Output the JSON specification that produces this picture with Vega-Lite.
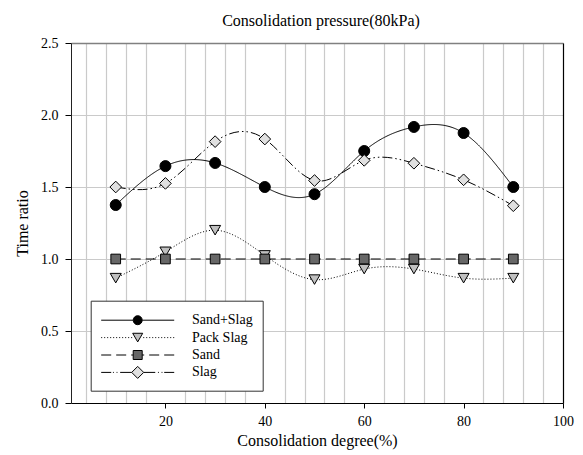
{
  "$schema": "https://vega.github.io/schema/vega-lite/v6.json",
  "autosize": {"type": "none"},
  "padding": {"left": 71, "top": 43, "right": 20, "bottom": 52},
  "width": 492,
  "height": 360,
  "background": "white",
  "config": {
    "font": "Liberation Serif",
    "view": {"stroke": null},
    "axis": {
      "labelFont": "Liberation Serif",
      "labelFontSize": 14,
      "labelColor": "black",
      "titleFont": "Liberation Serif",
      "titleFontSize": 16,
      "titleFontWeight": "normal",
      "titleColor": "black",
      "tickColor": "black",
      "gridColor": "#cacaca",
      "gridWidth": 1.2
    },
    "legend": {
      "labelFont": "Liberation Serif",
      "labelFontSize": 14,
      "labelColor": "black"
    }
  },
  "title": {
    "text": "Consolidation pressure(80kPa)",
    "font": "Liberation Serif",
    "fontSize": 16,
    "fontWeight": "normal",
    "color": "black",
    "anchor": "middle",
    "offset": 7,
    "dx": 4
  },
  "data": {
    "values": [
      {"degree": 10, "series": "Sand+Slag", "ratio": 1.375},
      {"degree": 20, "series": "Sand+Slag", "ratio": 1.645},
      {"degree": 30, "series": "Sand+Slag", "ratio": 1.667},
      {"degree": 40, "series": "Sand+Slag", "ratio": 1.5},
      {"degree": 50, "series": "Sand+Slag", "ratio": 1.45},
      {"degree": 60, "series": "Sand+Slag", "ratio": 1.75},
      {"degree": 70, "series": "Sand+Slag", "ratio": 1.917},
      {"degree": 80, "series": "Sand+Slag", "ratio": 1.875},
      {"degree": 90, "series": "Sand+Slag", "ratio": 1.5},
      {"degree": 10, "series": "Pack Slag", "ratio": 0.867},
      {"degree": 20, "series": "Pack Slag", "ratio": 1.05},
      {"degree": 30, "series": "Pack Slag", "ratio": 1.2},
      {"degree": 40, "series": "Pack Slag", "ratio": 1.025},
      {"degree": 50, "series": "Pack Slag", "ratio": 0.857},
      {"degree": 60, "series": "Pack Slag", "ratio": 0.93},
      {"degree": 70, "series": "Pack Slag", "ratio": 0.93},
      {"degree": 80, "series": "Pack Slag", "ratio": 0.867},
      {"degree": 90, "series": "Pack Slag", "ratio": 0.867},
      {"degree": 10, "series": "Sand", "ratio": 1.0},
      {"degree": 20, "series": "Sand", "ratio": 1.0},
      {"degree": 30, "series": "Sand", "ratio": 1.0},
      {"degree": 40, "series": "Sand", "ratio": 1.0},
      {"degree": 50, "series": "Sand", "ratio": 1.0},
      {"degree": 60, "series": "Sand", "ratio": 1.0},
      {"degree": 70, "series": "Sand", "ratio": 1.0},
      {"degree": 80, "series": "Sand", "ratio": 1.0},
      {"degree": 90, "series": "Sand", "ratio": 1.0},
      {"degree": 10, "series": "Slag", "ratio": 1.5},
      {"degree": 20, "series": "Slag", "ratio": 1.525},
      {"degree": 30, "series": "Slag", "ratio": 1.815},
      {"degree": 40, "series": "Slag", "ratio": 1.833},
      {"degree": 50, "series": "Slag", "ratio": 1.545},
      {"degree": 60, "series": "Slag", "ratio": 1.685},
      {"degree": 70, "series": "Slag", "ratio": 1.665},
      {"degree": 80, "series": "Slag", "ratio": 1.55},
      {"degree": 90, "series": "Slag", "ratio": 1.37}
    ]
  },
  "resolve": {
    "scale": {"shape": "independent", "fill": "independent"},
    "axis": {"x": "independent", "y": "independent"}
  },
  "layer": [
    {
      "mark": {"type": "line", "interpolate": "natural", "color": "black", "strokeWidth": 1},
      "encoding": {
        "x": {
          "field": "degree",
          "type": "quantitative",
          "scale": {"domain": [1, 100], "nice": false, "zero": false},
          "axis": {
            "title": "Consolidation degree(%)",
            "values": [4, 8, 12, 16, 20, 24, 28, 32, 36, 40, 44, 48, 52, 56, 60, 64, 68, 72, 76, 80, 84, 88, 92, 96, 100],
            "labelExpr": "datum.value % 20 === 0 ? datum.label : ''",
            "tickOpacity": {"condition": {"test": "datum.value % 20 === 0", "value": 1}, "value": 0},
            "gridOpacity": {"condition": {"test": "datum.value % 20 === 0", "value": 0}, "value": 1},
            "grid": true,
            "tickSize": 5,
            "labelPadding": 6,
            "titlePadding": 4,
            "domainColor": "black",
            "labelFlush": false
          }
        },
        "y": {
          "field": "ratio",
          "type": "quantitative",
          "scale": {"domain": [0, 2.5], "nice": false},
          "axis": {
            "title": "Time ratio",
            "values": [0, 0.5, 1, 1.5, 2, 2.5],
            "format": ".1f",
            "grid": true,
            "tickSize": 6,
            "labelPadding": 7,
            "titlePadding": 10,
            "domainColor": "#222222"
          }
        },
        "strokeDash": {
          "field": "series",
          "type": "nominal",
          "scale": {
            "domain": ["Sand+Slag", "Pack Slag", "Sand", "Slag"],
            "range": [[1, 0], [1, 2], [10, 5], [10, 3, 1.5, 3, 1.5, 3]]
          },
          "legend": null
        }
      }
    },
    {
      "mark": {"type": "point", "filled": true, "stroke": "black", "strokeWidth": 1, "opacity": 1, "size": 121},
      "encoding": {
        "x": {
          "field": "degree",
          "type": "quantitative",
          "axis": {"orient": "top", "labels": false, "ticks": false, "grid": false, "title": null, "domainColor": "#808080", "domainWidth": 1.5}
        },
        "y": {
          "field": "ratio",
          "type": "quantitative",
          "axis": {"orient": "right", "labels": false, "ticks": false, "grid": false, "title": null, "domainColor": "black", "domainWidth": 1.2}
        },
        "shape": {
          "field": "series",
          "type": "nominal",
          "scale": {
            "domain": ["Sand+Slag", "Pack Slag", "Sand", "Slag"],
            "range": ["circle", "triangle-down", "M-0.88,-0.88H0.88V0.88H-0.88Z", "M-1.06,0L0,-1.06L1.06,0L0,1.06Z"]
          },
          "legend": null
        },
        "fill": {
          "field": "series",
          "type": "nominal",
          "scale": {
            "domain": ["Sand+Slag", "Pack Slag", "Sand", "Slag"],
            "range": ["#000000", "#c0c0c0", "#676767", "#e0e0e0"]
          },
          "legend": null
        }
      }
    },
    {
      "transform": [{"filter": "false"}],
      "mark": {"type": "point", "filled": true, "stroke": "black", "strokeWidth": 1, "opacity": 1},
      "encoding": {
        "shape": {
          "field": "series",
          "type": "nominal",
          "scale": {
            "domain": ["Sand+Slag", "Pack Slag", "Sand", "Slag"],
            "range": [
              "M-4.056,0H-0.5M0.5,0H4.056M0.5,0A0.5,0.5,0,1,1,-0.5,0A0.5,0.5,0,1,1,0.5,0Z",
              "M-4.056,0h0.11m0.223,0h0.11m0.223,0h0.11m0.223,0h0.11m0.223,0h0.11m0.223,0h0.11m0.223,0h0.11m0.223,0h0.11m0.223,0h0.11m0.223,0h0.11m0.223,0h0.11M0.616,0h0.11m0.223,0h0.11m0.223,0h0.11m0.223,0h0.11m0.223,0h0.11m0.223,0h0.11m0.223,0h0.11m0.223,0h0.11m0.223,0h0.11m0.223,0h0.11m0.223,0h0.11M-0.556,-0.48H0.556L0,0.48Z",
              "M-4.056,0H-2.944M-2.389,0H-1.278M-0.722,0H-0.5M0.5,0H0.722M1.278,0H2.389M2.944,0H4.056M-0.5,-0.5H0.5V0.5H-0.5Z",
              "M-4.056,0H-2.944M-2.75,0H-2.65M-2.35,0H-2.25M-1.95,0H-0.667M0.667,0H1.95M2.25,0H2.35M2.65,0H2.75M2.944,0H4.056M-0.667,0L0,-0.667L0.667,0L0,0.667Z"
            ]
          },
          "legend": {
            "title": null,
            "orient": "none",
            "legendX": 19.7,
            "legendY": 257.7,
            "padding": 10,
            "strokeColor": "#333333",
            "fillColor": "white",
            "symbolSize": 324,
            "symbolOffset": 27.5,
            "symbolStrokeColor": "black",
            "symbolStrokeWidth": 1,
            "symbolOpacity": 1,
            "labelOffset": 44.7,
            "labelFontSize": 14,
            "labelLimit": 300,
            "rowPadding": 0.4,
            "encode": {
              "symbols": {
                "update": {
                  "stroke": {"value": "black"},
                  "strokeWidth": {"value": 1},
                  "opacity": {"value": 1}
                }
              }
            }
          }
        },
        "fill": {
          "field": "series",
          "type": "nominal",
          "scale": {
            "domain": ["Sand+Slag", "Pack Slag", "Sand", "Slag"],
            "range": ["#000000", "#c0c0c0", "#676767", "#e0e0e0"]
          },
          "legend": {
            "title": null,
            "orient": "none",
            "legendX": 19.7,
            "legendY": 257.7,
            "padding": 10,
            "strokeColor": "#333333",
            "fillColor": "white",
            "symbolSize": 324,
            "symbolOffset": 27.5,
            "symbolStrokeColor": "black",
            "symbolStrokeWidth": 1,
            "symbolOpacity": 1,
            "labelOffset": 44.7,
            "labelFontSize": 14,
            "labelLimit": 300,
            "rowPadding": 0.4,
            "encode": {
              "symbols": {
                "update": {
                  "stroke": {"value": "black"},
                  "strokeWidth": {"value": 1},
                  "opacity": {"value": 1}
                }
              }
            }
          }
        }
      }
    }
  ]
}
